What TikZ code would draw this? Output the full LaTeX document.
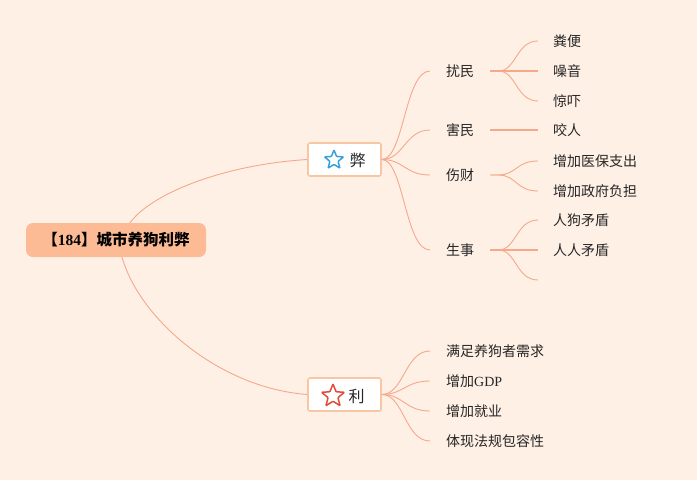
\documentclass[tikz,border=0pt]{standalone}
\usepackage{fontspec}
\setmainfont{Liberation Serif}
\newfontfamily\cjk{Noto Sans CJK SC}
\usetikzlibrary{shapes.geometric}
\definecolor{bgpeach}{HTML}{FFF0E6}
\definecolor{rootpeach}{HTML}{FDBB95}
\definecolor{linkpeach}{HTML}{F5A88A}
\definecolor{boxedge}{HTML}{F9C6A4}
\definecolor{starblue}{HTML}{3A9FD9}
\definecolor{starred}{HTML}{E24A3B}

\begin{document}
\begin{tikzpicture}[x=1pt, y=-1pt,
    link/.style={draw=linkpeach, line width=0.9pt},
    rootbox/.style={fill=rootpeach, rounded corners=7pt, minimum width=180pt,
        minimum height=34pt, inner sep=0pt,
        font=\fontsize{15.5pt}{17pt}\selectfont\bfseries},
    branchbox/.style={draw=boxedge, line width=1.6pt, fill=white,
        rounded corners=2pt, minimum width=73pt, minimum height=33pt, inner sep=0pt},
    starmark/.style={star, star points=5, star point ratio=2.3, line width=1.5pt,
        inner sep=0pt, minimum size=#1, rounded corners=0.8pt},
    leaf/.style={anchor=west, inner xsep=15pt, inner ysep=0pt,
        font=\cjk\fontsize{14pt}{16pt}\selectfont, text=black!85},
    branchtext/.style={inner sep=0pt, font=\cjk\fontsize{16pt}{18pt}\selectfont, text=black!85},
]
    % the background and the page size
    \fill[bgpeach] (0,0) rectangle (697,480);
    \useasboundingbox (0,0) rectangle (697,480);

    % the root node
    \node[rootbox] (root) at (116,240)
        {{\cjk 【}184{\cjk 】城市养狗利弊}};

    % the two branch boxes
    \node[branchbox] (bi) at (344.5,159.5) {};
    \node[starmark=20pt, draw=starblue] (bistar) at (334,160) {};
    \node[branchtext] (bitext) at (357.5,160) {弊};

    \node[branchbox] (li) at (344.5,394.5) {};
    \node[starmark=24pt, draw=starred] (listar) at (333,396) {};
    \node[branchtext] (litext) at (356.5,396) {利};

    % the two curves out of the root
    \draw[link] ([xshift=14pt]root.north) .. controls (150,195) and (220,165) .. (bi.west);
    \draw[link] ([xshift=6pt]root.south) .. controls (140,320) and (220,388) .. (li.west);

    % the second level under the first box
    \foreach \name/\txt/\y in {raomin/扰民/71, haimin/害民/130,
                               shangcai/伤财/175, shengshi/生事/250}
    {
        \node[leaf, inner xsep=16pt] (\name) at (430,\y) {\txt};
        \draw[link] (bi.east) .. controls +(22,0) and +(-25,0) .. (\name.west);
    }

    % the second level under the second box
    \foreach \name/\txt/\y in {manzu/满足养狗者需求/351, gdp/增加{\rmfamily GDP}/381,
                               jiuye/增加就业/411, baorong/体现法规包容性/441}
    {
        \node[leaf, inner xsep=16pt] (\name) at (430,\y) {\txt};
        \draw[link] (li.east) .. controls +(22,0) and +(-25,0) .. (\name.west);
    }

    % the third level, bent lines
    \foreach \from/\name/\txt/\y in {raomin/fenbian/粪便/41, raomin/jingxia/惊吓/101,
                                     shangcai/yibao/增加医保支出/161,
                                     shangcai/zhengfu/增加政府负担/191,
                                     shengshi/rengou/人狗矛盾/220}
    {
        \node[leaf] (\name) at (538,\y) {\txt};
        \draw[link] (\from.east) -- +(8,0) .. controls +(18,0) and +(-22,0) .. (\name.west);
    }

    % the third level, straight lines
    \foreach \from/\name/\txt/\y in {raomin/zaoyin/噪音/71, haimin/yaoren/咬人/130,
                                     shengshi/renren/人人矛盾/250}
    {
        \node[leaf] (\name) at (538,\y) {\txt};
        \draw[link, line width=1.3pt] (\from.east) -- (\name.west);
    }

    % the empty leaf under the last group
    \coordinate (kong) at (538,280);
    \draw[link] (shengshi.east) -- +(8,0) .. controls +(18,0) and +(-22,0) .. (kong);
\end{tikzpicture}
\end{document}
